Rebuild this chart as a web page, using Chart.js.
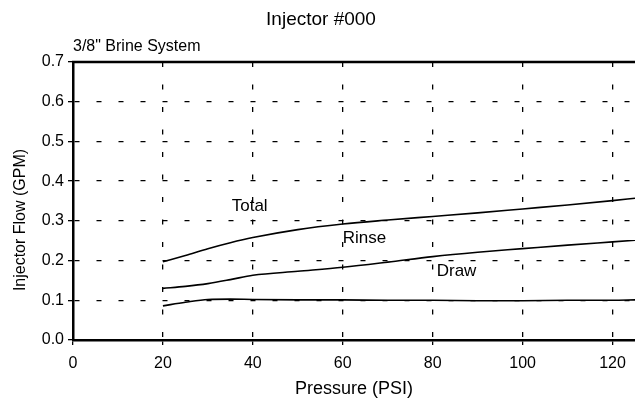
<!DOCTYPE html>
<html><head><meta charset="utf-8">
<script src="https://cdn.jsdelivr.net/npm/chart.js@4.4.1/dist/chart.umd.min.js"></script>
<style>html,body{margin:0;padding:0;background:#fff}#wrap{width:635px;height:410px}</style>
</head><body><div id="wrap"><canvas id="c" width="635" height="410"></canvas></div>
<script>
const pressure = [20, 25, 30, 35, 40, 50, 60, 70, 80, 90, 100, 110, 120, 125];
const totalFlow = [0.197, 0.213, 0.230, 0.245, 0.258, 0.278, 0.292, 0.302, 0.311, 0.320, 0.330, 0.340, 0.351, 0.357];
const rinseFlow = [0.130, 0.135, 0.142, 0.152, 0.163, 0.173, 0.183, 0.196, 0.210, 0.221, 0.230, 0.239, 0.247, 0.251];
const drawFlow  = [0.086, 0.095, 0.102, 0.103, 0.102, 0.101, 0.101, 0.100, 0.100, 0.099, 0.099, 0.100, 0.100, 0.101];
const seriesNames = ["Total", "Rinse", "Draw"];
const labelPos = [[35.3, 0.337], [60, 0.257], [80.9, 0.174]];
const xTicks = [0, 20, 40, 60, 80, 100, 120];
const yTicks = [0, 0.1, 0.2, 0.3, 0.4, 0.5, 0.6, 0.7];
const chartTitle = "Injector #000";
const chartSubtitle = '3/8" Brine System';
const xTitle = "Pressure (PSI)";
const yTitle = "Injector Flow (GPM)";

const FONT = "'Liberation Sans', Arial, sans-serif";
const mk = arr => pressure.map((p, i) => ({x: p, y: arr[i]}));

const overlay = {
  id: 'overlay',
  afterDraw(chart) {
    const ctx = chart.ctx, a = chart.chartArea;
    const xs = chart.scales.x, ys = chart.scales.y;
    ctx.save();
    ctx.strokeStyle = '#000'; ctx.lineWidth = 2.5;
    ctx.beginPath(); ctx.moveTo(a.left - 1, a.top); ctx.lineTo(a.right, a.top); ctx.stroke();
    ctx.fillStyle = '#000';
    ctx.font = '19px ' + FONT; ctx.textAlign = 'center'; ctx.textBaseline = 'middle';
    ctx.fillText(chartTitle, 321, 20);
    ctx.font = '16px ' + FONT; ctx.textAlign = 'left';
    ctx.fillText(chartSubtitle, 73, 47);
    ctx.font = '17px ' + FONT;
    seriesNames.forEach((n, i) => {
      ctx.fillText(n, xs.getPixelForValue(labelPos[i][0]), ys.getPixelForValue(labelPos[i][1]));
    });
    ctx.save();
    ctx.translate(21, 220); ctx.rotate(-Math.PI / 2);
    ctx.font = '16px ' + FONT; ctx.textAlign = 'center';
    ctx.fillText(yTitle, 0, 0);
    ctx.restore();
    ctx.restore();
  }
};

new Chart(document.getElementById('c'), {
  type: 'line',
  data: {
    datasets: [totalFlow, rinseFlow, drawFlow].map((arr, i) => ({
      label: seriesNames[i], data: mk(arr), borderColor: '#000', borderWidth: 1.6,
      pointRadius: 0, fill: false, cubicInterpolationMode: 'monotone'
    }))
  },
  options: {
    responsive: false, animation: false,
    layout: {padding: {top: 62, right: 0, left: 0, bottom: 6}},
    plugins: {legend: {display: false}, tooltip: {enabled: false}},
    scales: {
      x: {
        type: 'linear', min: 0, max: 125,
        afterBuildTicks: s => { s.ticks = xTicks.map(v => ({value: v})); },
        afterFit: s => { s.height = 64; s.paddingLeft = 0; s.paddingRight = 0; },
        border: {color: '#000', width: 2.5, dash: [5, 17.5]},
        grid: {color: ctx => ctx.tick && ctx.tick.value === 0 ? 'rgba(0,0,0,0)' : '#000', lineWidth: 1.3,
               tickBorderDash: [], tickColor: '#000', tickLength: 5, tickWidth: 1.3, drawTicks: true},
        ticks: {color: '#000', font: {family: FONT, size: 16}, padding: 9, maxRotation: 0},
        title: {display: true, text: xTitle, color: '#000', font: {family: FONT, size: 18}, padding: {top: 6}}
      },
      y: {
        type: 'linear', min: 0, max: 0.7,
        afterBuildTicks: s => { s.ticks = yTicks.map(v => ({value: v})); },
        afterFit: s => { s.width = 73; s.paddingTop = 0; s.paddingBottom = 0; },
        border: {color: '#000', width: 2.5, dash: [5, 17]},
        grid: {color: ctx => ctx.tick && (ctx.tick.value === 0 || ctx.tick.value === 0.7) ? 'rgba(0,0,0,0)' : '#000', lineWidth: 1.3,
               tickBorderDash: [], tickColor: '#000', tickLength: 5, tickWidth: 1.3, drawTicks: true},
        ticks: {color: '#000', font: {family: FONT, size: 16}, padding: 4, callback: v => Number(v).toFixed(1)},
        title: {display: false}
      }
    }
  },
  plugins: [overlay]
});
</script></body></html>
